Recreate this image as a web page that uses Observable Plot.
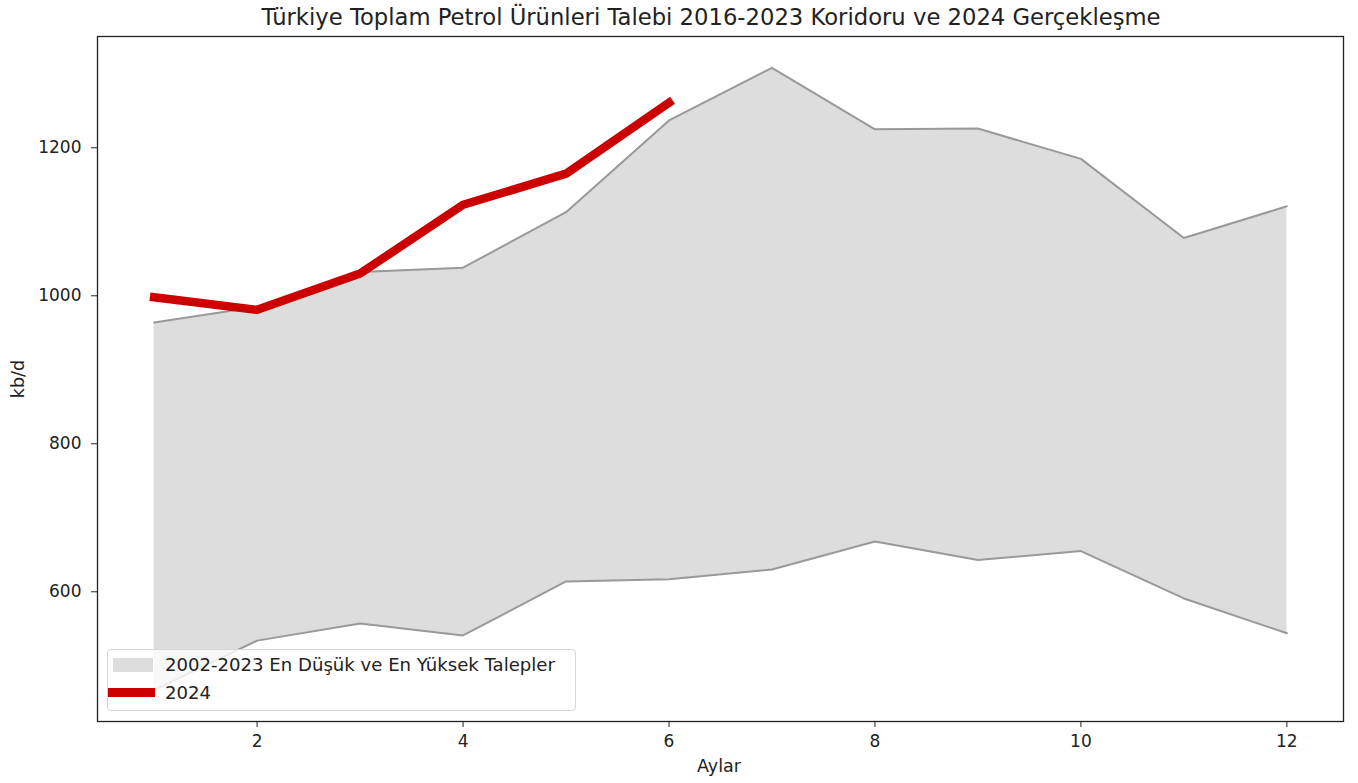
<!DOCTYPE html>
<html><head><meta charset="utf-8">
<script src="https://cdn.jsdelivr.net/npm/d3@7"></script>
<script src="https://cdn.jsdelivr.net/npm/@observablehq/plot@0.6"></script>
<style>
body{margin:0;background:#fff;font-family:"DejaVu Sans",sans-serif;}
#wrap{position:relative;width:1358px;height:783px;overflow:hidden;}
#title{position:absolute;left:88px;width:1246px;top:4px;text-align:center;font-size:22.7px;color:#222;white-space:nowrap;}
#chart{position:absolute;left:0;top:30px;}
.axlab{position:absolute;font-size:17.5px;color:#222;white-space:nowrap;}
#legend{position:absolute;left:107px;top:649px;width:469px;height:62px;border:1px solid #d6d6d6;border-radius:4px;background:rgba(255,255,255,0.8);box-sizing:border-box;}
.sw{position:absolute;}
.lt{position:absolute;font-size:18.1px;color:#222;white-space:nowrap;line-height:22px;}
</style></head><body>
<div id="wrap">
  <div id="title">Türkiye Toplam Petrol Ürünleri Talebi 2016-2023 Koridoru ve 2024 Gerçekleşme</div>
  <div id="chart"></div>
  <div class="axlab" id="xlab" style="left:697px;top:756px;">Aylar</div>
  <div class="axlab" id="ylab" style="left:-1px;top:369px;transform:rotate(-90deg);">kb/d</div>
  <div id="legend">
    <div class="sw" style="left:5px;top:8px;width:40px;height:14px;background:#dddddd;"></div>
    <div class="lt" style="left:57px;top:4px;">2002-2023 En Düşük ve En Yüksek Talepler</div>
    <div class="sw" style="left:0px;top:38px;width:47px;height:9px;background:#cc0000;"></div>
    <div class="lt" style="left:57px;top:32px;">2024</div>
  </div>
</div>
<script>
const months = [1,2,3,4,5,6,7,8,9,10,11,12];
const lowDemand = [467,534,557,541,614,617,630,668,643,655,591,544];
const highDemand = [964,985,1032,1038,1113,1237,1308,1225,1226,1185,1078,1121];
const months2024 = [1,2,3,4,5,6];
const demand2024 = [998,981,1030,1123,1165,1261];
const xTicks = [2,4,6,8,10,12];
const yTicks = [600,800,1000,1200];

const band = months.map((m,i)=>({month:m, low:lowDemand[i], high:highDemand[i]}));
const cur = months2024.map((m,i)=>({month:m, value:demand2024[i]}));

const chart = Plot.plot({
  width: 1358,
  height: 753,
  marginTop: 6,
  marginBottom: 62,
  marginLeft: 97,
  marginRight: 15,
  style: {fontSize: "17px", fontFamily: "DejaVu Sans, sans-serif", color: "#222", background: "white"},
  x: {domain: [0.45, 12.55], ticks: xTicks, tickSize: 6, tickPadding: 7, label: null, tickFormat: d => String(d)},
  y: {domain: [424.7, 1350.4], ticks: yTicks, tickSize: 6, tickPadding: 10, label: null, tickFormat: d => String(d)},
  marks: [
    Plot.areaY(band, {x: "month", y1: "low", y2: "high", fill: "#dddddd"}),
    Plot.line(band, {x: "month", y: "low", stroke: "#999999", strokeWidth: 2}),
    Plot.line(band, {x: "month", y: "high", stroke: "#999999", strokeWidth: 2}),
    Plot.line(cur, {x: "month", y: "value", stroke: "#cc0000", strokeWidth: 8.5, strokeLinecap: "square", strokeLinejoin: "round"}),
    Plot.frame({stroke: "#222", strokeWidth: 1.3})
  ]
});
document.getElementById("chart").appendChild(chart);
</script>
</body></html>
